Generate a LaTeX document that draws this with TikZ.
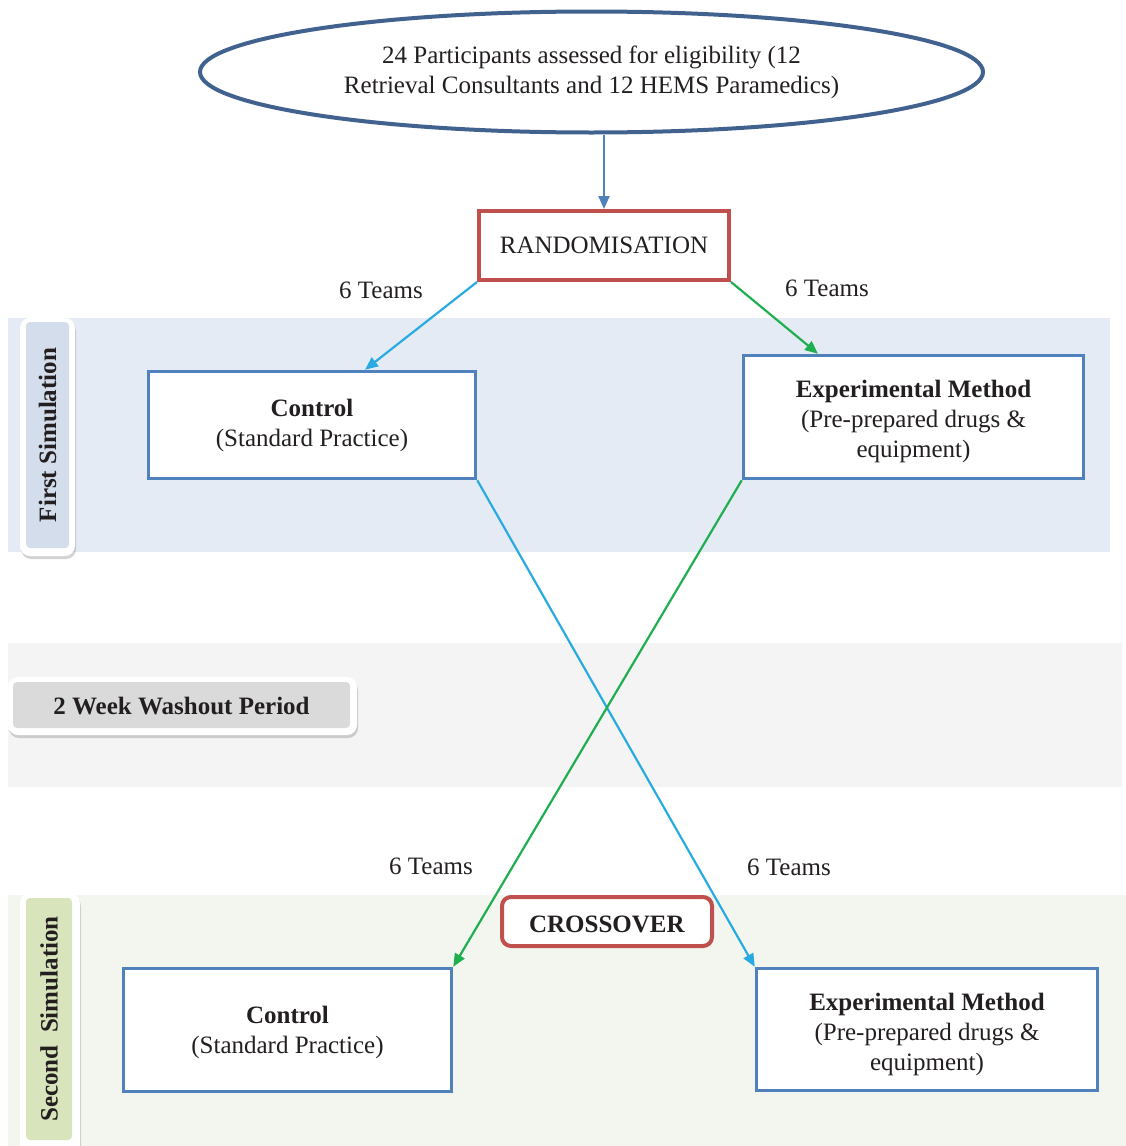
\documentclass[tikz,border=0pt]{standalone}
\usepackage{fontspec}
\setmainfont{Liberation Serif}
\usetikzlibrary{arrows.meta,shapes.geometric,shadows,calc}
\definecolor{txt}{HTML}{231F20}
\definecolor{ellblue}{HTML}{41628F}
\definecolor{boxblue}{HTML}{4F81BD}
\definecolor{redc}{HTML}{C0504D}
\definecolor{cyanc}{HTML}{29ABE2}
\definecolor{greenc}{HTML}{1FAF50}
\definecolor{bandblue}{HTML}{E4EBF5}
\definecolor{bandgray}{HTML}{F4F4F4}
\definecolor{bandgreen}{HTML}{F3F6EE}
\definecolor{sideblue}{HTML}{D3DDEB}
\definecolor{sidegray}{HTML}{DADADA}
\definecolor{sidegreen}{HTML}{D8E4BC}
\begin{document}
\begin{tikzpicture}[x=1pt,y=-1pt,
  every node/.style={text=txt, font=\fontsize{25}{30}\selectfont},
  ell/.style={ellipse, draw=ellblue, line width=4pt, fill=white, align=center, inner sep=0pt, minimum width=783pt, minimum height=121pt},
  redbox/.style={draw=redc, line width=4pt, fill=white, align=center, inner sep=0pt},
  blbox/.style={draw=boxblue, line width=3.5pt, fill=white, align=center, inner sep=0pt},
  sidebox/.style={rounded corners=4pt, align=center, inner sep=0pt},
  outerbox/.style={fill=white, rounded corners=10pt, drop shadow={opacity=0.35, shadow xshift=1pt, shadow yshift=-3pt}},
  conn/.style={line width=2.2pt, -{Triangle[length=13pt,width=11pt]}},
  lbl/.style={inner sep=0pt}
]
\useasboundingbox (0,0) rectangle (1126,1146);
% bands
\fill[bandblue] (8,318) rectangle (1110,552);
\fill[bandgray] (8,643) rectangle (1122,787);
\fill[bandgreen] (8,895) rectangle (1126,1146);

% side labels
\path[outerbox] (20,318) rectangle (75,556);
\node[sidebox, fill=sideblue, rotate=90, minimum width=226pt, minimum height=43pt] (s1) at (47.5,435) {\textbf{First Simulation}};
\path[outerbox] (8,677) rectangle (357,735);
\node[sidebox, fill=sidegray, minimum width=337pt, minimum height=46pt] (wash) at (181.5,705) {\rule{0pt}{20pt}\textbf{2 Week Washout Period}};
\path[outerbox] (20,893) rectangle (80,1156);
\node[sidebox, fill=sidegreen, rotate=90, minimum width=242pt, minimum height=46pt] (s2) at (49,1019) {\textbf{Second\ \ Simulation}};

% main nodes
\node[ell] (ell) at (591.5,72) {24 Participants assessed for eligibility (12\\Retrieval Consultants and 12 HEMS Paramedics)};
\node[redbox, minimum width=250pt, minimum height=69pt] (rand) at (604,245.5) {RANDOMISATION};
\node[blbox, minimum width=327pt, minimum height=107pt] (c1) at (312,425) {\textbf{Control}\\(Standard Practice)};
\node[blbox, minimum width=340pt, minimum height=123pt] (e1) at (913.5,417) {\rule{0pt}{26pt}\textbf{Experimental Method}\\(Pre-prepared drugs \&\\equipment)};
\node[redbox, rounded corners=9pt, minimum width=210pt, minimum height=49pt] (cross) at (607,921.5) {\rule{0pt}{22pt}\textbf{CROSSOVER}};
\node[blbox, minimum width=328pt, minimum height=123pt] (c2) at (287.5,1030) {\rule{0pt}{22pt}\textbf{Control}\\(Standard Practice)};
\node[blbox, minimum width=341pt, minimum height=122pt] (e2) at (927,1029.5) {\rule{0pt}{27pt}\textbf{Experimental Method}\\(Pre-prepared drugs \&\\equipment)};

% labels
\node[lbl] (t1) at (381,290) {6 Teams};
\node[lbl] (t2) at (827,288) {6 Teams};
\node[lbl] (t3) at (431,866) {6 Teams};
\node[lbl] (t4) at (789,867) {6 Teams};

% connectors
\coordinate (c1in) at ([xshift=53pt]c1.north);
\coordinate (e1in) at ([xshift=-95.5pt]e1.north);
\draw[conn, boxblue] (rand.north |- ell.south) -- (rand.north);
\draw[conn, cyanc] (rand.south west) -- (c1in);
\draw[conn, greenc] (rand.south east) -- (e1in);
\draw[conn, cyanc] (c1.south east) -- (e2.north west);
\draw[conn, greenc] (e1.south west) -- (c2.north east);
\end{tikzpicture}
\end{document}
